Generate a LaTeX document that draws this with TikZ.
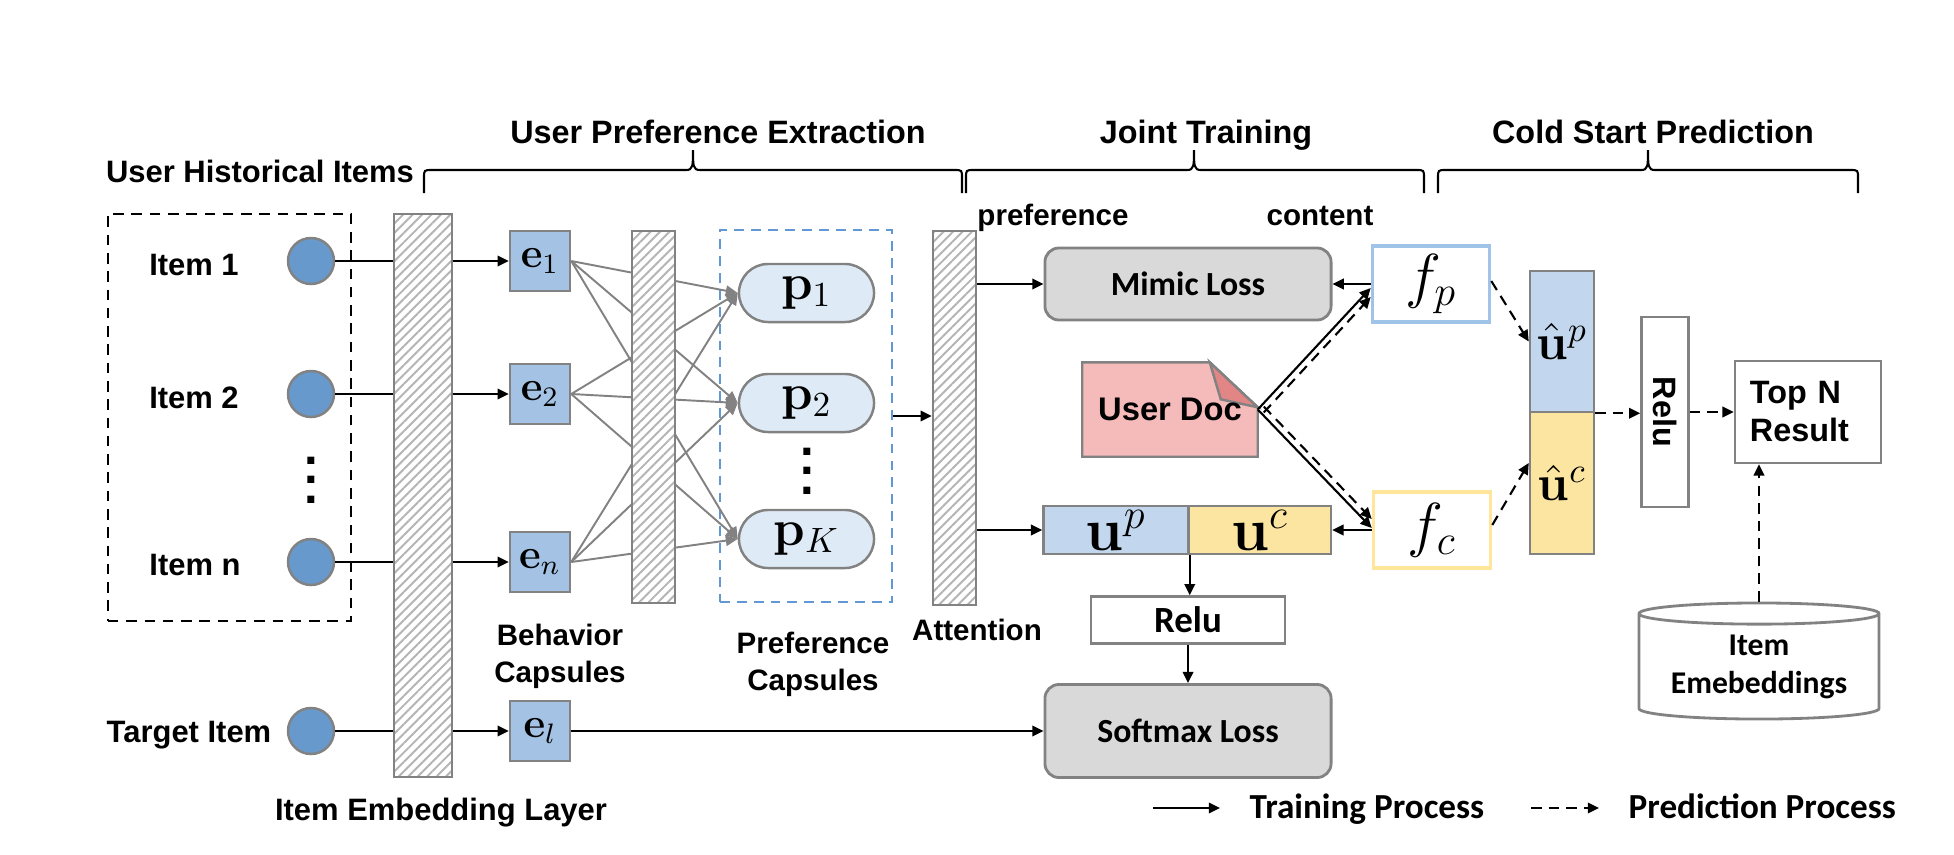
\documentclass[tikz,border=0pt]{standalone}
\usepackage[no-math]{fontspec}
\usepackage{graphicx}
\setmainfont{Liberation Sans}
\newfontfamily\calfont{Carlito}
\usetikzlibrary{arrows.meta,patterns.meta,shapes.geometric,backgrounds}
\definecolor{itemblue}{RGB}{103,153,204}
\definecolor{embblue}{RGB}{164,195,228}
\definecolor{capfill}{RGB}{222,235,247}
\definecolor{lossfill}{RGB}{217,217,217}
\definecolor{rim}{RGB}{130,130,130}
\definecolor{upfill}{RGB}{194,215,237}
\definecolor{ucfill}{RGB}{252,229,161}
\definecolor{docfill}{RGB}{245,186,186}
\definecolor{foldfill}{RGB}{225,133,133}
\definecolor{fprim}{RGB}{160,196,232}
\definecolor{fcrim}{RGB}{255,230,155}
\definecolor{capdash}{RGB}{98,152,212}
\tikzset{
  hdr/.style={font=\fontsize{9.2}{11}\selectfont\bfseries,inner sep=0pt,anchor=base},
  lbl/.style={font=\fontsize{8.8}{10.5}\selectfont\bfseries,inner sep=0pt,anchor=base},
  sublbl/.style={font=\fontsize{8.4}{10.5}\selectfont\bfseries,inner sep=0pt,align=center},
  leglbl/.style={font=\calfont\fontsize{10}{12}\selectfont\bfseries,inner sep=0pt,anchor=base west},
  vdot/.style={font=\fontsize{14}{5.5}\selectfont\bfseries,align=center,inner sep=0pt},
  itemdot/.style={circle,draw=rim,line width=0.7pt,fill=itemblue,minimum size=0.46cm,inner sep=0pt},
  hatchbar/.style={draw=rim,line width=0.7pt,preaction={fill=white},pattern={Lines[angle=45,distance=1.9pt,line width=0.55pt]},pattern color=rim!60,inner sep=0pt},
  ebox/.style={draw=rim,line width=0.7pt,fill=embblue,minimum size=0.6cm,inner sep=0pt,font=\fontsize{12}{12}\selectfont},
  pcap/.style={draw=rim,line width=0.7pt,fill=capfill,rounded corners=0.29cm,minimum width=1.35cm,minimum height=0.58cm,inner sep=0pt,font=\fontsize{14.5}{14.5}\selectfont},
  capgroup/.style={draw=capdash,line width=0.6pt,dash pattern=on 2.8pt off 2pt,minimum width=1.72cm,minimum height=3.72cm,inner sep=0pt},
  lossbox/.style={draw=rim,line width=0.8pt,fill=lossfill,rounded corners=0.14cm,minimum width=2.86cm,inner sep=0pt,font=\calfont\fontsize{9.6}{11}\selectfont\bfseries},
  whitebox/.style={draw=rim,line width=0.7pt,fill=white,inner sep=0pt,font=\fontsize{9.2}{10.8}\selectfont\bfseries},
  ubox/.style={draw=rim,line width=0.7pt,minimum height=0.48cm,inner sep=0pt,font=\fontsize{16.5}{16.5}\selectfont},
  hatbox/.style={draw=rim,line width=0.7pt,minimum width=0.64cm,inner sep=0pt,font=\fontsize{14}{14}\selectfont},
  funcbox/.style={line width=1pt,fill=white,minimum width=1.17cm,minimum height=0.76cm,inner sep=0pt,font=\fontsize{17}{17}\selectfont},
  dbcyl/.style={cylinder,shape border rotate=90,aspect=0.12,draw=rim,line width=0.8pt,minimum width=2.4cm,minimum height=1.16cm,inner sep=0pt,align=center,font=\calfont\fontsize{9}{10.8}\selectfont\bfseries},
  train/.style={-{Triangle[length=3.2pt,width=3pt]},line width=0.6pt},
  pred/.style={train,dash pattern=on 3pt off 2pt},
  capline/.style={draw=rim,line width=0.55pt,-{Triangle[length=3.4pt,width=3pt]}}
}
\begin{document}
\begin{tikzpicture}[x=0.01cm,y=-0.01cm]
\useasboundingbox(0,0)rectangle(1954,854);
\node[hdr](h1)at(718,143){User Preference Extraction};
\node[hdr](h2)at(1206,143){Joint Training};
\node[hdr](h3)at(1653,143){Cold Start Prediction};
\draw[line width=0.6pt](424,193)--(424,178) .. controls (424,170) .. (432,170)--(686,170) .. controls (693,170) and (693,166) .. (693,150) .. controls (693,166) and (693,170) .. (700,170)--(954,170) .. controls (962,170) .. (962,178)--(962,193);
\draw[line width=0.6pt](966,193)--(966,178) .. controls (966,170) .. (974,170)--(1187,170) .. controls (1194,170) and (1194,166) .. (1194,150) .. controls (1194,166) and (1194,170) .. (1201,170)--(1416,170) .. controls (1424,170) .. (1424,178)--(1424,193);
\draw[line width=0.6pt](1438,193)--(1438,178) .. controls (1438,170) .. (1446,170)--(1641,170) .. controls (1648,170) and (1648,166) .. (1648,150) .. controls (1648,166) and (1648,170) .. (1655,170)--(1850,170) .. controls (1858,170) .. (1858,178)--(1858,193);
\node[lbl](uhi)at(260,182){User Historical Items};
\node[draw,line width=0.6pt,dash pattern=on 3pt off 2.2pt,minimum width=2.43cm,minimum height=4.07cm,inner sep=0pt](hist)at(229.5,417.5){};
\node[lbl](t1)at(194,275){Item 1};
\node[lbl](t2)at(194,408){Item 2};
\node[lbl](tn)at(195,575){Item n};
\node[lbl](tl)at(189,742){Target Item};
\node[itemdot](i1)at(311,261){};
\node[itemdot](i2)at(311,394){};
\node[itemdot](in)at(311,562){};
\node[itemdot](il)at(311,731){};
\node[vdot](idots)at(311,480){.\\.\\.};
\node[hatchbar,minimum width=0.58cm,minimum height=5.63cm](b1)at(423,495.5){};
\node[lbl](iel)at(441,820){Item Embedding Layer};
\node[ebox](e1)at(540,261){$\mathbf{e}_1$};
\node[ebox](e2)at(540,394){$\mathbf{e}_2$};
\node[ebox](en)at(540,562){$\mathbf{e}_n$};
\node[ebox](el)at(540,731){$\mathbf{e}_l$};
\node[sublbl](bc)at(560,656){Behavior\\Capsules};
\draw[line width=0.6pt](i1.east)--(i1-|b1.west);
\draw[line width=0.6pt](i2.east)--(i2-|b1.west);
\draw[line width=0.6pt](in.east)--(in-|b1.west);
\draw[line width=0.6pt](il.east)--(il-|b1.west);
\draw[train](i1-|b1.east)--(e1.west);
\draw[train](i2-|b1.east)--(e2.west);
\draw[train](in-|b1.east)--(en.west);
\draw[train](il-|b1.east)--(el.west);
\node[capgroup](pgrp)at(806,416){};
\node[pcap](p1)at(806.5,293){$\mathbf{p}_1$};
\node[pcap](p2)at(806.5,403){$\mathbf{p}_2$};
\node[pcap](pK)at(806.5,539){$\mathbf{p}_K$};
\node[vdot](pdots)at(807,471){.\\.\\.};
\node[sublbl](pc)at(813,664){Preference\\Capsules};
\draw[capline](e1.east)--(p1.west);
\draw[capline](e1.east)--(p2.west);
\draw[capline](e1.east)--(pK.west);
\draw[capline](e2.east)--(p1.west);
\draw[capline](e2.east)--(p2.west);
\draw[capline](e2.east)--(pK.west);
\draw[capline](en.east)--(p1.west);
\draw[capline](en.east)--(p2.west);
\draw[capline](en.east)--(pK.west);
\node[hatchbar,minimum width=0.43cm,minimum height=3.72cm](b2)at(653.5,417){};
\node[hatchbar,minimum width=0.43cm,minimum height=3.74cm](att)at(954.5,418){};
\node[sublbl,anchor=base](attl)at(977,640){Attention};
\draw[train](pgrp.east)--(pgrp.east-|att.west);
\node[sublbl,anchor=base](pref)at(1053,225){preference};
\node[sublbl,anchor=base](cont)at(1320,225){content};
\node[lossbox,minimum height=0.72cm](mimic)at(1188,284){Mimic Loss};
\node[lossbox,minimum height=0.93cm](soft)at(1188,731){Softmax Loss};
\node[ubox,fill=upfill,minimum width=1.45cm](up)at(1116,530){$\mathbf{u}^p$};
\node[ubox,fill=ucfill,minimum width=1.42cm](uc)at(1260,530){$\mathbf{u}^c$};
\node[whitebox,font=\calfont\fontsize{10.5}{12}\selectfont\bfseries,minimum width=1.94cm,minimum height=0.47cm](relu1)at(1188,620){Relu};
\node[funcbox,draw=fprim](fp)at(1431,284){$f_p$};
\node[funcbox,draw=fcrim](fc)at(1432,530){$f_c$};
\node[font=\fontsize{9.3}{11}\selectfont\bfseries,minimum width=1.74cm,minimum height=0.93cm,inner sep=0pt](doc)at(1170,409.5){User Doc};
\begin{scope}[on background layer]
\draw[draw=rim,line width=0.7pt,fill=docfill](doc.south west)--(doc.north west)--([xshift=-0.48cm]doc.north east)--([yshift=-0.45cm]doc.north east)--(doc.south east)--cycle;
\draw[draw=rim,line width=0.7pt,fill=foldfill]([xshift=-0.48cm]doc.north east)--([xshift=-0.37cm,yshift=-0.37cm]doc.north east)--([yshift=-0.45cm]doc.north east)--cycle;
\end{scope}
\draw[train](att.east|-mimic.west)--(mimic.west);
\draw[train](att.east|-up.west)--(up.west);
\draw[train](fp.west)--(fp.west-|mimic.east);
\draw[train](fc.west)--(uc.east);
\draw[train](doc.east)--([yshift=-0.04cm]fp.west);
\draw[pred]([xshift=0.06cm,yshift=-0.03cm]doc.east)--([yshift=-0.13cm]fp.west);
\draw[train](doc.east)--([yshift=0.02cm]fc.west);
\draw[pred]([xshift=0.06cm,yshift=0.03cm]doc.east)--([yshift=0.11cm]fc.west);
\draw[train](up.south east)--(up.south east|-relu1.north);
\draw[train](relu1.south)--(soft.north);
\draw[train](el.east)--(soft.west);
\node[hatbox,fill=upfill,minimum height=1.41cm](hup)at(1562,341.5){$\hat{\mathbf{u}}^p$};
\node[hatbox,fill=ucfill,minimum height=1.42cm](huc)at(1562,483){$\hat{\mathbf{u}}^c$};
\node[whitebox,minimum width=0.47cm,minimum height=1.9cm](relu2)at(1665,412){\rotatebox{-90}{Relu}};
\node[whitebox,text width=1.16cm,align=left,inner xsep=0.15cm,minimum height=1.02cm](top)at(1808,412){Top N\\Result};
\node[dbcyl](db)at(1759,667){Item\\Emebeddings};
\draw[pred]([yshift=0.03cm]fp.east)--(hup.west);
\draw[pred]([yshift=0.05cm]fc.east)--([yshift=0.2cm]huc.west);
\draw[pred](hup.south east)--(hup.south east-|relu2.west);
\draw[pred](relu2.east)--(relu2.east-|top.west);
\draw[pred](db.north)--(db.north|-top.south);
\coordinate(l1)at(1153,808);
\coordinate(l2)at(1220,808);
\coordinate(l3)at(1531,808);
\coordinate(l4)at(1599,808);
\draw[train](l1)--(l2);
\draw[pred](l3)--(l4);
\node[leglbl](tp)at(1249,818){Training Process};
\node[leglbl](pp)at(1628,818){Prediction Process};
\end{tikzpicture}
\end{document}
